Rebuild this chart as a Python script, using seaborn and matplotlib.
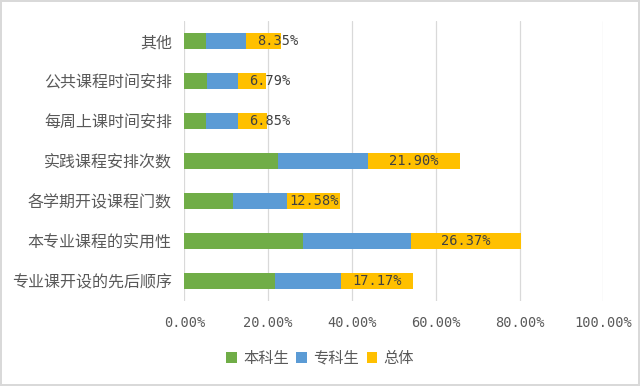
import matplotlib
matplotlib.use("Agg")
import matplotlib.pyplot as plt
from matplotlib.patches import Patch
import seaborn as sns
import pandas as pd

# data, top to bottom as shown in the chart (percent)
categories = ["其他", "公共课程时间安排", "每周上课时间安排", "实践课程安排次数",
              "各学期开设课程门数", "本专业课程的实用性", "专业课开设的先后顺序"]
undergrad = [5.1, 5.5, 5.1, 22.3, 11.6, 28.3, 21.7]
junior = [9.6, 7.3, 7.7, 21.6, 13.0, 25.8, 15.6]
overall = [8.35, 6.79, 6.85, 21.90, 12.58, 26.37, 17.17]
series_names = ["本科生", "专科生", "总体"]
xticks = [0, 20, 40, 60, 80, 100]

colors = ["#70AD47", "#5B9BD5", "#FFC000"]

df = pd.DataFrame({"cat": categories, "u": undergrad, "j": junior, "o": overall})
df["c1"] = df["u"]
df["c2"] = df["u"] + df["j"]
df["c3"] = df["c2"] + df["o"]

sns.set_style("white")
plt.rcParams["font.family"] = ["Noto Sans CJK SC", "DejaVu Sans"]

fig = plt.figure(figsize=(6.4, 3.86), dpi=100)
ax = fig.add_axes([0.288, 0.2202, 0.9427 - 0.288, 0.9456 - 0.2202])

# stacked bars drawn as overlapping cumulative totals
for col, c in zip(["c3", "c2", "c1"], colors[::-1]):
    sns.barplot(data=df, x=col, y="cat", orient="h", color=c, width=0.4,
                saturation=1, linewidth=0, ax=ax, zorder=3)

for i, row in df.iterrows():
    if row["o"] < 10:
        # narrow segments: label starts a little inside the segment and spills over
        x, ha = row["c2"] + 2.6, "left"
    else:
        x, ha = (row["c2"] + row["c3"]) / 2, "center"
    ax.text(x, i, f"{row['o']:.2f}%", ha=ha, va="center",
            fontsize=9.8, family=["DejaVu Sans Mono"], color="#404040", zorder=4)

ax.set_xlim(0, 100)
ax.set_xticks(xticks)
ax.set_xticklabels([f"{t:.2f}%" for t in xticks], family=["DejaVu Sans Mono"],
                   fontsize=9.8, color="#595959")
ax.tick_params(axis="x", length=0, pad=11)
ax.tick_params(axis="y", length=0, pad=9, labelsize=11.5, labelcolor="#595959")
ax.set_xlabel("")
ax.set_ylabel("")
ax.grid(axis="x", color="#D9D9D9", linewidth=0.9, zorder=0)
ax.set_axisbelow(True)
for s in ax.spines.values():
    s.set_visible(False)

handles = [Patch(facecolor=c, edgecolor="none") for c in colors]
fig.legend(handles, series_names, loc="center", bbox_to_anchor=(0.5, 0.0725), ncol=3,
           frameon=False, fontsize=11, labelcolor="#595959", handlelength=0.7,
           handleheight=0.7, handletextpad=0.4, columnspacing=0.5)

fig.patch.set_edgecolor("#D9D9D9")
fig.patch.set_linewidth(1.5)
fig.savefig("out.png", dpi=100)
